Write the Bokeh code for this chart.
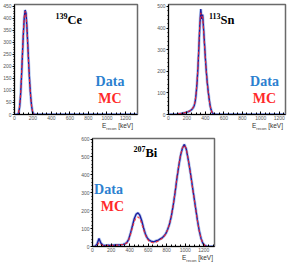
from bokeh.plotting import figure
from bokeh.models import Range1d, Label, SingleIntervalTicker, Spacer, Div
from bokeh.layouts import column, row
from bokeh.embed import file_html
from bokeh.resources import INLINE

# ---------------- data (counts per bin) ----------------
# 139Ce: 10 keV bins, centres from 45 keV
ce_first, ce_bw = 45, 10
ce_data = [8, 30, 75, 150, 240, 330, 400, 435, 420, 360, 280, 200, 130, 75, 35, 12, 3]
ce_mc = [10, 34, 80, 156, 246, 336, 404, 430, 414, 354, 274, 194, 126, 72, 35, 14, 4]

# 113Sn: 10 keV bins, centres from 100 keV
sn_first, sn_bw = 100, 10
sn_data = [2, 3, 3, 4, 5, 5, 6, 7, 8, 9, 11, 12, 14, 16, 19, 22, 27, 33, 43, 62,
           98, 150, 222, 318, 418, 488, 442, 462, 398, 328, 258, 198, 148, 108, 73,
           44, 24, 12, 5, 2, 1]
sn_mc = [3, 3, 4, 4, 5, 6, 7, 8, 9, 10, 11, 13, 15, 17, 20, 24, 29, 36, 46, 66,
         102, 155, 228, 325, 425, 470, 455, 450, 392, 322, 255, 195, 146, 106, 72,
         43, 23, 11, 5, 2, 1]

# 207Bi: 20 keV bins, centres from 10 keV
bi_first, bi_bw = 10, 20
bi_data = [0, 2, 15, 45, 20, 8, 6, 6, 7, 6, 7, 7, 8, 8, 9, 10, 12, 15, 22, 40,
           75, 115, 155, 180, 188, 175, 145, 105, 70, 48, 36, 30, 27, 28, 32, 36,
           42, 48, 58, 72, 95, 125, 170, 230, 300, 380, 450, 510, 550, 570, 545,
           490, 430, 360, 290, 220, 150, 90, 45, 18, 6, 2, 0, 0, 0, 0]
bi_mc = [0, 1, 8, 20, 12, 6, 5, 5, 6, 6, 6, 7, 7, 8, 9, 10, 11, 14, 20, 36,
         68, 105, 140, 160, 165, 155, 130, 95, 64, 42, 30, 24, 21, 22, 26, 31,
         38, 45, 55, 70, 94, 126, 172, 232, 305, 385, 455, 515, 552, 565, 548,
         492, 428, 356, 286, 216, 146, 88, 44, 17, 6, 2, 0, 0, 0, 0]

x_tick_step = 200
xlabel_main, xlabel_sub, xlabel_unit = "E", "recon", "[keV]"

SERIF = "Liberation Serif"
SANS = "Liberation Sans"
DATA_BLUE = "#2b80cf"
MC_RED = "#ff2a2a"


def make_panel(width, height, xmax, ymax, ystep, borders):
    l, r, t, b = borders
    p = figure(width=width, height=height, x_range=Range1d(0, xmax),
               y_range=Range1d(0, ymax), output_backend="svg",
               toolbar_location=None, min_border_left=l, min_border_right=r,
               min_border_top=t, min_border_bottom=b)
    p.grid.visible = False
    p.outline_line_color = "#6a6a6a"
    p.outline_line_width = 1.5
    p.xaxis.ticker = SingleIntervalTicker(interval=x_tick_step, num_minor_ticks=4)
    p.yaxis.ticker = SingleIntervalTicker(interval=ystep, num_minor_ticks=5)
    for ax in (p.xaxis, p.yaxis):
        ax.axis_line_color = "black"
        ax.axis_line_width = 1
        ax.major_tick_line_color = "black"
        ax.minor_tick_line_color = "black"
        ax.major_label_text_font = SANS
        ax.major_label_text_font_size = "5px"
        ax.major_label_text_color = "#555555"
        ax.major_label_standoff = 1
    p.xaxis.major_tick_in = 3
    p.xaxis.major_tick_out = 0
    p.xaxis.minor_tick_in = 2
    p.xaxis.minor_tick_out = 0
    p.yaxis.major_tick_in = 0
    p.yaxis.major_tick_out = 2
    p.yaxis.minor_tick_in = 0
    p.yaxis.minor_tick_out = 1
    p.frame_width = width - l - r
    p.frame_height = height - t - b
    return p


def padded(first, bw, vals, xmax):
    c = first - bw
    lead = []
    while c > 0:
        lead.insert(0, c)
        c -= bw
    xs = [0] + lead + [first + i * bw for i in range(len(vals))]
    ys = [0] + [0] * len(lead) + list(vals)
    c = xs[-1] + bw
    while c < xmax:
        xs.append(c)
        ys.append(0)
        c += bw
    xs.append(xmax)
    ys.append(0)
    return xs, ys


def draw(p, first, bw, data, mc, xmax):
    xd, yd = padded(first, bw, data, xmax)
    xm, ym = padded(first, bw, mc, xmax)
    p.line(xd, yd, line_color="#9ab6e8", line_width=3, line_alpha=0.7)
    p.line(xd, yd, line_color="#1c1c9e", line_width=1.4)
    p.line(xm, ym, line_color=MC_RED, line_width=1.2, line_dash="3 2", line_alpha=0.85)


def put(p, fx, fy, text, size, color="black", font=SERIF, style="bold",
        align="left", baseline="alphabetic"):
    xr, yr = p.x_range, p.y_range
    x = xr.start + fx / p.frame_width * (xr.end - xr.start)
    y = yr.end - fy / p.frame_height * (yr.end - yr.start)
    p.add_layout(Label(x=x, y=y, text=text, text_font=font,
                       text_font_size=f"{size}px", text_font_style=style,
                       text_color=color, text_align=align,
                       text_baseline=baseline))


def decorate(p, iso, elem, el_fx, el_fy, data_fx, data_fy, mc_fx, mc_fy):
    # superscript mass number ends where the element symbol begins
    put(p, el_fx, el_fy - 4, iso, 8, align="right")
    put(p, el_fx, el_fy, elem, 12.5)
    put(p, data_fx, data_fy, "Data", 14, color=DATA_BLUE, align="center")
    put(p, mc_fx, mc_fy, "MC", 14, color=MC_RED, align="center")


def axis_title(width, pad_right):
    html = (f'<div style="display:block;width:{width}px;height:9px;text-align:right;'
            f'box-sizing:border-box;padding-right:{pad_right}px;'
            f'font-family:\'{SANS}\';font-size:6.5px;line-height:8px;'
            f'color:#333333;white-space:nowrap;">'
            f'{xlabel_main}<sub style="font-size:4px;line-height:0;">{xlabel_sub}</sub> '
            f'{xlabel_unit}</div>')
    return Div(text=html, width=width, height=9, margin=0,
               styles={"font-size": "1px", "line-height": "1px",
                       "overflow": "visible"})


p1 = make_panel(150, 122, 1330, 458, 50, (12, 15, 4, 8))
draw(p1, ce_first, ce_bw, ce_data, ce_mc, 1330)
decorate(p1, "139", "Ce", 53, 15, 95.5, 77, 95.5, 94)

p2 = make_panel(140, 122, 1268, 509, 100, (16, 7, 4, 8))
draw(p2, sn_first, sn_bw, sn_data, sn_mc, 1268)
decorate(p2, "113", "Sn", 52, 15, 96, 77, 96, 94)

p3 = make_panel(150, 123, 1315, 603, 100, (20, 8, 7, 8))
draw(p3, bi_first, bi_bw, bi_data, bi_mc, 1315)
decorate(p3, "207", "Bi", 53, 14, 16, 51, 20, 68)

layout = column(row(p1, p2, spacing=0),
                row(axis_title(150, 17), axis_title(140, 7), spacing=0),
                row(Spacer(width=72, height=123), p3, spacing=0),
                row(Spacer(width=72, height=9), axis_title(150, 9), spacing=0),
                spacing=0)
layout.styles = {"position": "absolute", "left": "0px", "top": "0px"}

open("out.html", "w").write(file_html(layout, INLINE))
